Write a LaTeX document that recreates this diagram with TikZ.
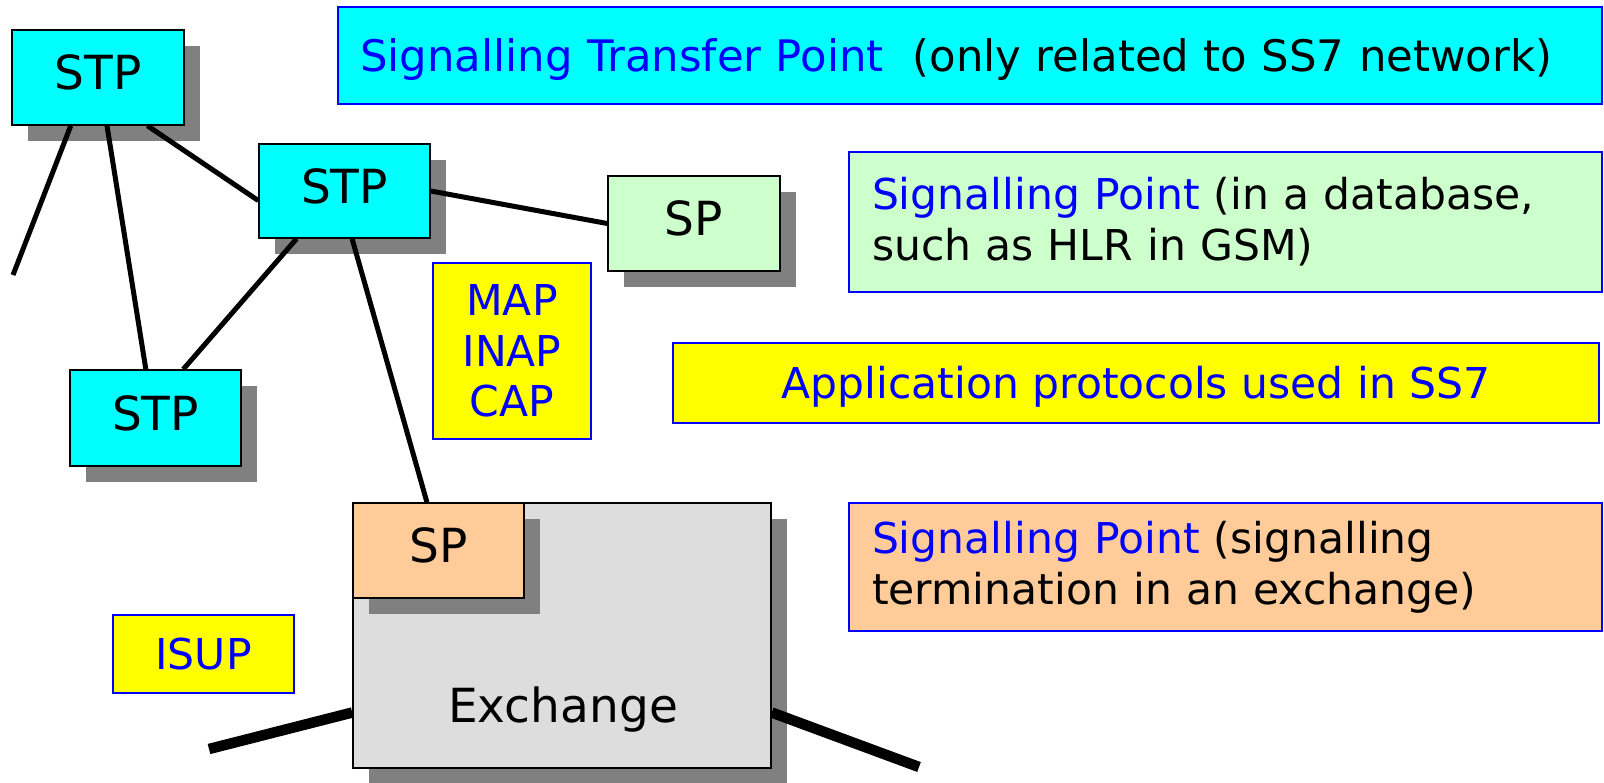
\documentclass[tikz,border=0pt]{standalone}
\usepackage{fontspec}
\setmainfont{DejaVu Sans}
\usetikzlibrary{shadows,calc}
\definecolor{stpcyan}{HTML}{00FFFF}
\definecolor{spgreen}{HTML}{CCFFCC}
\definecolor{appyellow}{HTML}{FFFF00}
\definecolor{sporange}{HTML}{FFCC99}
\definecolor{exgray}{HTML}{DDDDDD}
\definecolor{shadowgray}{HTML}{808080}
\definecolor{txtblue}{HTML}{0000FF}
\tikzset{
  boxshadow/.style={general shadow={fill=shadowgray, shadow xshift=16pt, shadow yshift=-16pt}},
  netbox/.style={rectangle, draw=black, line width=1.5pt, inner sep=0pt, boxshadow,
    font=\fontsize{47}{56}\selectfont, text height=34pt, text depth=10pt},
  infobox/.style={rectangle, draw=txtblue, line width=1.8pt, inner sep=0pt},
  desctext/.style={font=\fontsize{42.5}{51}\selectfont},
  oneline/.style={text height=31pt, text depth=0pt},
  link/.style={draw=black, line width=5pt},
  trunk/.style={draw=black, line width=10.5pt},
}
\begin{document}
\begin{tikzpicture}[x=1pt,y=-1pt]
\useasboundingbox (0,0) rectangle (1604,782);
% info boxes
\node[infobox, fill=stpcyan, minimum width=1264, minimum height=97,
  font=\fontsize{43.4}{51}\selectfont, text width=1220, align=left, oneline] (title) at (970,55.5)
  {\textcolor{txtblue}{Signalling Transfer Point}\ \ (only related to SS7 network)};
\node[infobox, fill=spgreen, minimum width=753, minimum height=140, desctext,
  text width=707, align=left] (spgdesc) at (1225.5,222)
  {\textcolor{txtblue}{Signalling Point} (in a database,\\such as HLR in GSM)};
\node[infobox, fill=appyellow, minimum width=926, minimum height=80, desctext,
  text=txtblue, oneline] (appdesc) at (1136,383)
  {Application protocols used in SS7};
\node[infobox, fill=sporange, minimum width=753, minimum height=128, desctext,
  text width=707, align=left] (spodesc) at (1225.5,567)
  {\textcolor{txtblue}{Signalling Point} (signalling\\termination in an exchange)};
\node[infobox, fill=appyellow, minimum width=158, minimum height=176,
  font=\fontsize{42.5}{50.5}\selectfont, text=txtblue, align=center] (maps) at (512,351)
  {MAP\\INAP\\CAP};
\node[infobox, fill=appyellow, minimum width=181, minimum height=78,
  desctext, text=txtblue, oneline] (isup) at (203.5,654)
  {ISUP};
% network boxes
\node[netbox, fill=stpcyan, minimum width=172, minimum height=95] (stp1) at (98,77.5) {STP};
\node[netbox, fill=stpcyan, minimum width=171, minimum height=94] (stp2) at (344.5,191) {STP};
\node[netbox, fill=stpcyan, minimum width=171, minimum height=96] (stp3) at (155.5,418) {STP};
\node[netbox, fill=spgreen, minimum width=172, minimum height=95] (spg) at (694,223.5) {SP};
\node[netbox, fill=exgray, minimum width=418, minimum height=265] (exch) at (562,635.5) {};
\node[font=\fontsize{47}{56}\selectfont, anchor=base, inner sep=0pt] (exlbl) at (563,722) {Exchange};
\node[netbox, fill=sporange, minimum width=171, minimum height=95] (spo) at (438.5,550.5) {SP};
% free ends
\coordinate (free1) at (13,275);
\coordinate (free2) at (209,749);
\coordinate (free3) at (919,767);
% connectors
\draw[link] ($(stp1.south west)!0.343!(stp1.south east)$) -- (free1);
\draw[link] ($(stp1.south west)!0.552!(stp1.south east)$) -- ($(stp3.north west)!0.444!(stp3.north east)$);
\draw[link] ($(stp1.south west)!0.785!(stp1.south east)$) -- ($(stp2.north west)!0.6!(stp2.south west)$);
\draw[link] (stp2.east) -- (spg.west);
\draw[link] ($(stp2.south west)!0.222!(stp2.south east)$) -- ($(stp3.north west)!0.661!(stp3.north east)$);
\draw[link] ($(stp2.south west)!0.544!(stp2.south east)$) -- ($(spo.north west)!0.433!(spo.north east)$);
\draw[trunk] (free2) -- ($(exch.north west)!0.789!(exch.south west)$);
\draw[trunk] ($(exch.north east)!0.789!(exch.south east)$) -- (free3);
\end{tikzpicture}
\end{document}
